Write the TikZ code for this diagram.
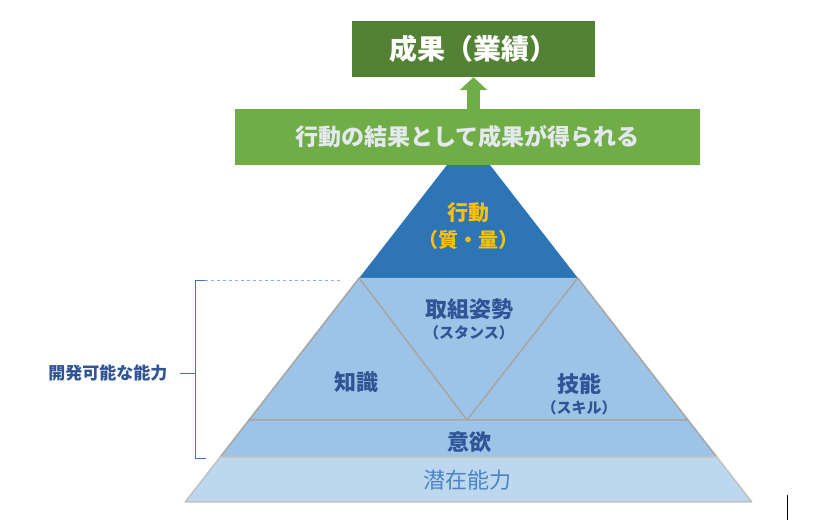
\documentclass[tikz,border=0pt]{standalone}
\usepackage{fontspec}
\newfontfamily\jp{Noto Sans CJK JP}
\usetikzlibrary{arrows.meta}
\definecolor{resgreen}{HTML}{548235}
\definecolor{bandgreen}{HTML}{70AD47}
\definecolor{actblue}{HTML}{2E75B6}
\definecolor{abilblue}{HTML}{9DC3E6}
\definecolor{latblue}{HTML}{BDD7EE}
\definecolor{edgegrey}{HTML}{A6A6A6}
\definecolor{txtblue}{HTML}{2F5597}
\definecolor{lattxt}{HTML}{4A86C5}
\definecolor{bracecol}{HTML}{4472C4}
\definecolor{gold}{HTML}{FFC000}
\definecolor{bandtxt}{HTML}{E4E9EF}

\begin{document}
\begin{tikzpicture}[x=1pt,y=-1pt,
	lbl/.style={font=\jp\bfseries\fontsize{22}{24}\selectfont, text=txtblue, align=center, inner sep=0pt},
	box/.style={minimum height=56pt, inner sep=0pt, font=\jp\bfseries},
	layer/.style={draw=edgegrey, line width=1.5pt, line join=round}]
	\useasboundingbox (0,0) rectangle (831,529);
	% pyramid
	\fill [actblue](468.5,137.3)--(577.8,278)--(359.2,278)--cycle;
	\fill [abilblue](359.2,278)--(577.8,278)--(688,420)--(249,420)--cycle;
	\draw [edgegrey, line width=1.5pt](249,420)--(359.2,278)--(467,420)--(577.8,278)--(688,420);
	\draw [layer, fill=abilblue](249,420)--(688,420)--(716.8,457)--(220.2,457)--cycle;
	\draw [layer, draw=edgegrey!70, fill=latblue](220.2,457)--(716.8,457)--(751.8,502)--(185.2,502)--cycle;
	% labels in the pyramid
	\node [lbl, text=gold, font=\jp\bfseries\fontsize{21}{27}\selectfont] (act) at (468.5,226) {行動\\{\fontsize{20}{27}\selectfont （質・量）}};
	\node [lbl] (stance) at (469,319) {取組姿勢\\[-3pt]{\fontsize{15}{18}\selectfont （スタンス）}};
	\node [lbl] (know) at (356,382) {知識};
	\node [lbl] (skill) at (579,394) {技能\\[-3pt]{\fontsize{15}{18}\selectfont （スキル）}};
	\node [lbl] (will) at (469,442) {意欲};
	\node [lbl, text=lattxt, font=\jp\fontsize{22}{24}\selectfont] (latent) at (467,480) {潜在能力};
	% result boxes
	\node [box, fill=bandgreen, minimum width=465pt, text=bandtxt, font=\jp\bfseries\fontsize{23}{25}\selectfont] (band) at (467.5,137) {行動の結果として成果が得られる};
	\node [box, fill=resgreen, minimum width=243pt, text=white, font=\jp\bfseries\fontsize{28}{30}\selectfont] (result) at (473.5,49) {成果（業績）};
	\draw [bandgreen, line width=13pt, -{Triangle[width=27pt, length=13pt]}](result.south |- band.north)--(result.south);
	% bracket
	\node [lbl, font=\jp\bfseries\fontsize{17}{19}\selectfont] (dev) at (108,373) {開発可能な能力};
	\coordinate (btop) at (195,280);
	\coordinate (bmid) at (195,373);
	\coordinate (bbot) at (195,458);
	\draw [bracecol!60, dashed](205,280)--(340,280);
	\draw [bracecol](205,280)--(btop)--(bbot)--(206,458);
	\draw [bracecol, shorten <=12pt](dev.east)--(bmid);
	\draw [black](787,495)--(787,520);
\end{tikzpicture}
\end{document}
